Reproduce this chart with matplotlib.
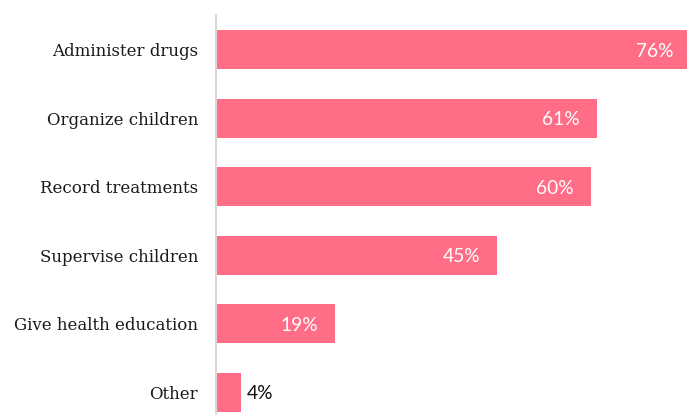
import matplotlib
matplotlib.use("Agg")
import matplotlib.pyplot as plt
from matplotlib.transforms import offset_copy

categories = ["Administer drugs", "Organize children", "Record treatments",
              "Supervise children", "Give health education", "Other"]
values = [76, 61, 60, 45, 19, 4]
value_labels = ["76%", "61%", "60%", "45%", "19%", "4%"]

BAR_COLOR = "#ff6d87"
AXIS_COLOR = "#d9d9d9"

fig = plt.figure(figsize=(6.87, 4.15), dpi=100)
ax = fig.add_axes([216 / 687, 0.0, 471 / 687, 400 / 415])

pos = list(range(len(categories)))
ax.barh(pos, values, height=0.57, color=BAR_COLOR, zorder=2)

ax.set_xlim(0, 75.4)
ax.set_ylim(5.328, -0.503)

ax.set_yticks(pos)
ax.set_yticklabels(categories, fontfamily="DejaVu Serif", fontsize=12, color="#1a1a1a")
ax.tick_params(axis="y", length=0, pad=13)
ax.set_xticks([])

for side in ("top", "right", "bottom"):
    ax.spines[side].set_visible(False)
ax.spines["left"].set_color(AXIS_COLOR)
ax.spines["left"].set_linewidth(1.5)
ax.spines["left"].set_zorder(3)

for p, v, lab in zip(pos, values, value_labels):
    if v >= 10:
        tr = offset_copy(ax.transData, fig=fig, x=-17, y=0, units="dots")
        ax.text(v, p, lab, transform=tr, ha="right", va="center_baseline",
                color="white", fontsize=13.8, fontfamily="Lato", clip_on=False)
    else:
        tr = offset_copy(ax.transData, fig=fig, x=6, y=0, units="dots")
        ax.text(v, p, lab, transform=tr, ha="left", va="center_baseline",
                color="#111111", fontsize=13.8, fontfamily="Lato")

fig.savefig("out.png", dpi=100)
